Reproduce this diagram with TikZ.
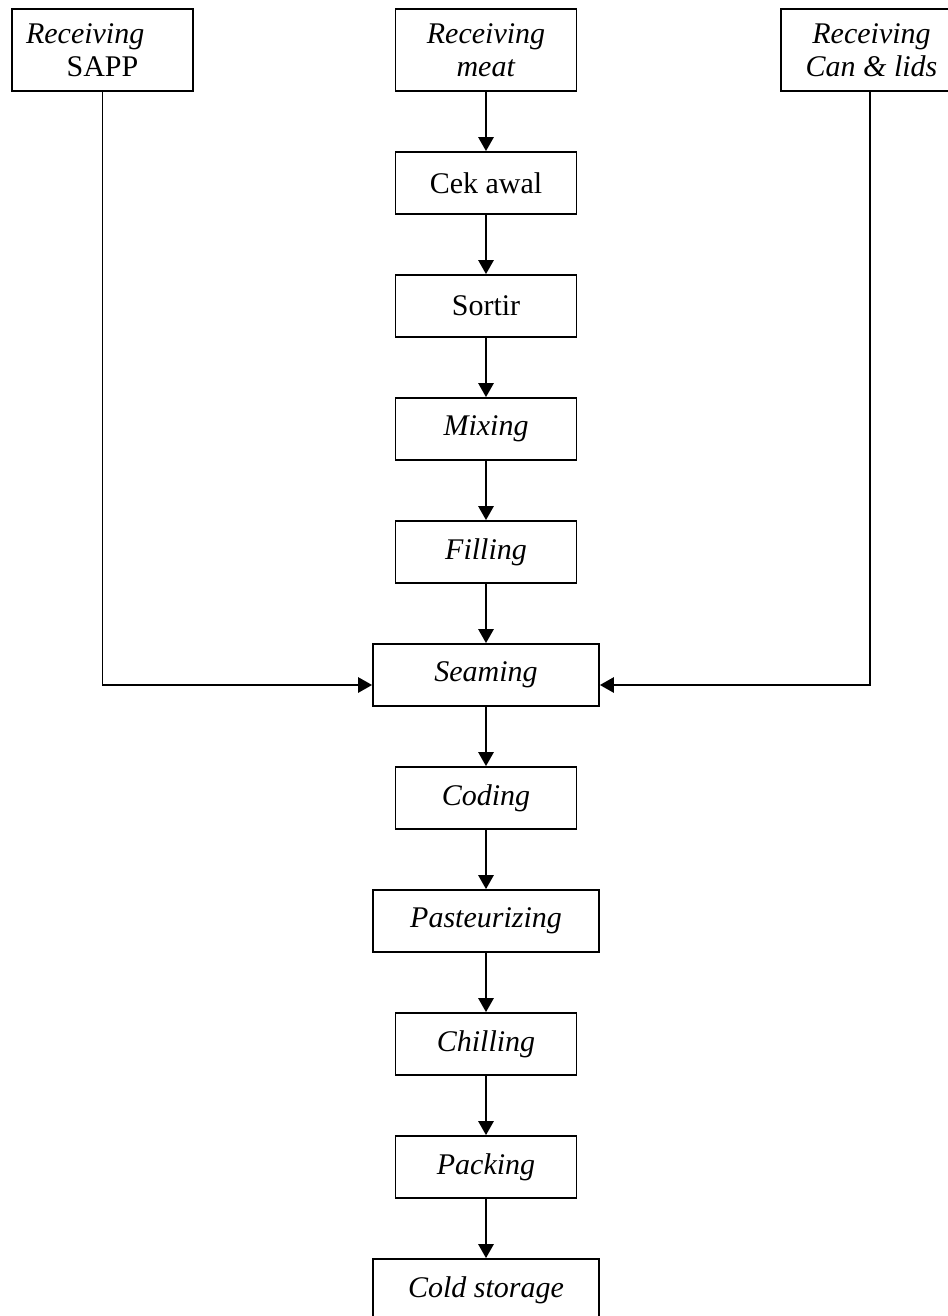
\documentclass[tikz,border=0pt]{standalone}
\usepackage{fontspec}
\setmainfont{Liberation Serif}
\usetikzlibrary{arrows.meta}

\tikzset{
  stepbox/.style={draw, line width=1.35pt, minimum width=135.75pt, minimum height=46.5pt,
    inner sep=0pt, align=center, font=\fontsize{22.5}{25}\selectfont},
  widebox/.style={stepbox, minimum width=169.5pt},
  srcbox/.style={stepbox, minimum height=61.5pt},
  arr/.style={line width=1.35pt, -{Triangle[length=10.5pt, width=11.5pt]}}
}

\begin{document}
\begin{tikzpicture}[x=0.75pt, y=-0.75pt]
  \useasboundingbox (0,0) rectangle (948,1316);
  \clip (0,0) rectangle (948,1316);

  % raw material receiving
  \node[srcbox] (sapp) at (102.5,50) {\textit{Receiving}\hspace*{26pt}\\SAPP};
  \node[srcbox] (meat) at (486,50)   {\textit{Receiving}\\\textit{meat}};
  \node[srcbox] (can)  at (871.5,50) {\textit{Receiving}\\\textit{Can \& lids}};

  % main process line
  \node[stepbox] (cek)     at (486,183)  {Cek awal};
  \node[stepbox] (sortir)  at (486,306)  {Sortir};
  \node[stepbox] (mixing)  at (486,429)  {\textit{Mixing}};
  \node[stepbox] (filling) at (486,552)  {\textit{Filling}};
  \node[widebox] (seaming) at (486,675)  {\textit{Seaming}};
  \node[stepbox] (coding)  at (486,798)  {\textit{Coding}};
  \node[widebox] (pasteur) at (486,921)  {\textit{Pasteurizing}};
  \node[stepbox] (chill)   at (486,1044) {\textit{Chilling}};
  \node[stepbox] (packing) at (486,1167) {\textit{Packing}};
  \node[widebox] (cold)    at (486,1290) {\textit{Cold storage}};

  \draw[arr] (meat) -- (cek);
  \draw[arr] (cek) -- (sortir);
  \draw[arr] (sortir) -- (mixing);
  \draw[arr] (mixing) -- (filling);
  \draw[arr] (filling) -- (seaming);
  \draw[arr] (seaming) -- (coding);
  \draw[arr] (coding) -- (pasteur);
  \draw[arr] (pasteur) -- (chill);
  \draw[arr] (chill) -- (packing);
  \draw[arr] (packing) -- (cold);

  % side feeds into seaming
  \draw[arr] (sapp.south) |- ([yshift=-7.5pt]seaming.west);
  \draw[arr] ([xshift=-1.1pt]can.south) |- ([yshift=-7.5pt]seaming.east);
\end{tikzpicture}
\end{document}
